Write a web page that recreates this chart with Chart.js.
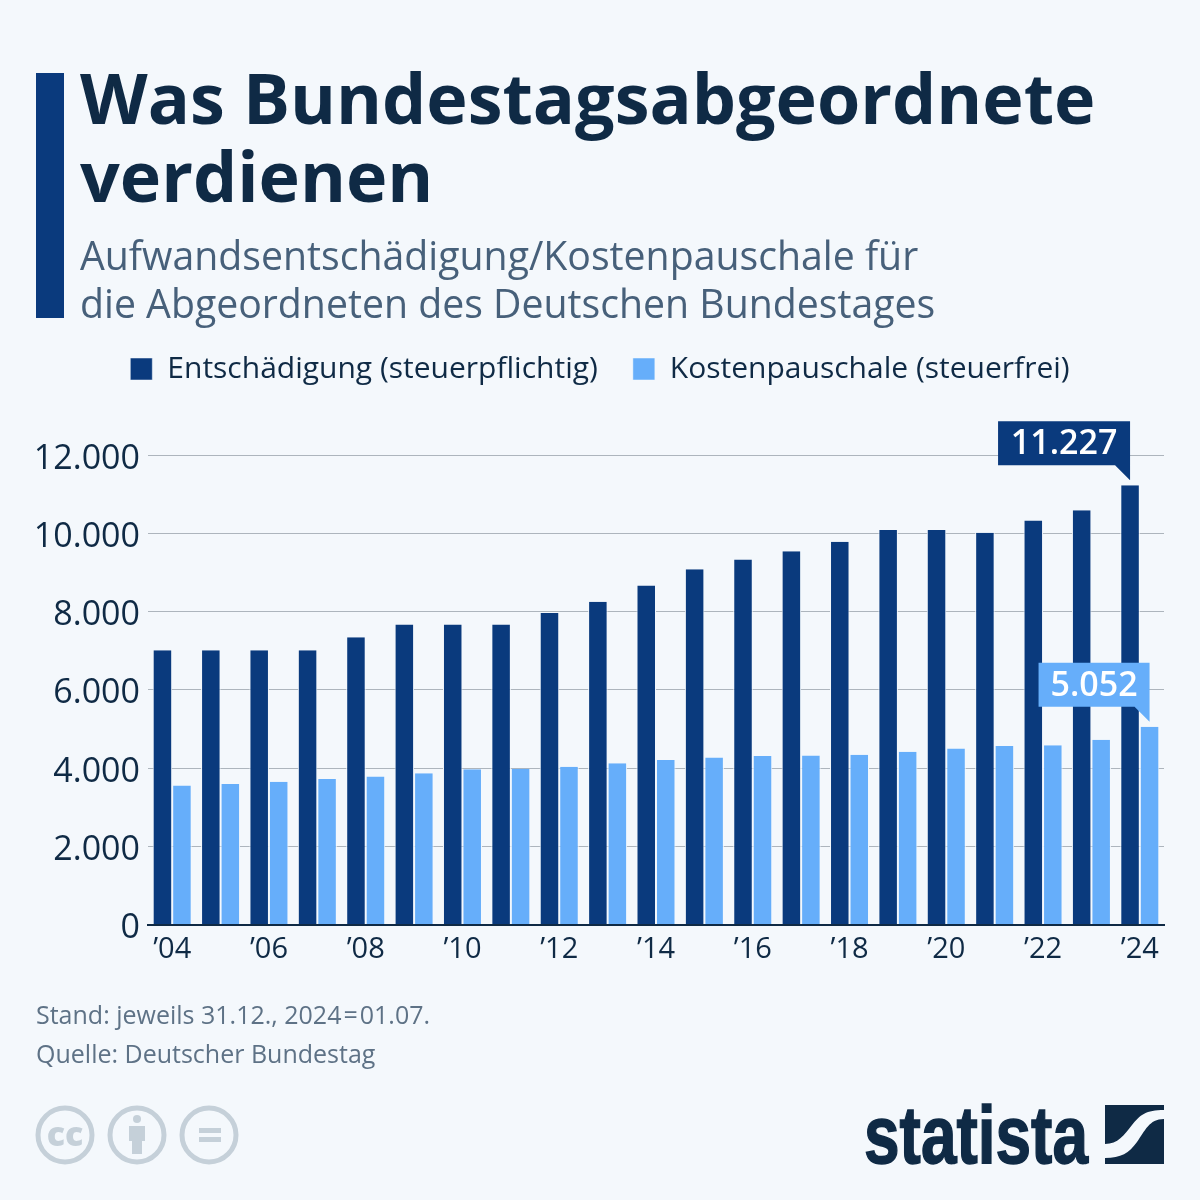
<!DOCTYPE html>
<html lang="de">
<head>
<meta charset="utf-8">
<title>Was Bundestagsabgeordnete verdienen</title>
<script src="https://cdn.jsdelivr.net/npm/chart.js@4"></script>
<style>
  html, body { margin: 0; padding: 0; background: #f4f8fc; }
  #page { position: relative; width: 1200px; height: 1200px; overflow: hidden; font-family: "Open Sans", sans-serif; }
  #page > * { position: absolute; }
  #chart { left: 0; top: 0; width: 1200px; height: 1200px; }
  #accent { left: 36px; top: 73px; width: 28px; height: 245px; background: #0a3a7d; }
  #title { left: 80px; top: 58px; font-size: 70px; line-height: 78px; font-weight: 700; color: #0f2a45; white-space: pre; }
  #subtitle { left: 80px; top: 231px; font-size: 39.23px; line-height: 48px; color: #47607a; white-space: pre; }
  #note { left: 36px; top: 994.5px; font-size: 25px; line-height: 39px; color: #5e7286; white-space: pre; }
  #note span { margin: 0 2px; }
</style>
</head>
<body>
<div id="page">
  <canvas id="chart" width="1200" height="1200"></canvas>
  <div id="accent"></div>
  <div id="title">Was Bundestagsabgeordnete
verdienen</div>
  <div id="subtitle">Aufwandsentschädigung/Kostenpauschale für
die Abgeordneten des Deutschen Bundestages</div>
  <div id="note">Stand: jeweils 31.12., 2024<span>=</span>01.07.
Quelle: Deutscher Bundestag</div>

  <!-- licence icons -->
  <svg style="left:0;top:1090px" width="260" height="90" viewBox="0 0 260 90">
    <g fill="none" stroke="#c5d0d9" stroke-width="5">
      <circle cx="65" cy="45" r="27"/><circle cx="137" cy="45" r="27"/><circle cx="209" cy="45" r="27"/>
    </g>
    <text x="65" y="56" text-anchor="middle" font-family="Open Sans" font-weight="800" font-size="34" fill="#c5d0d9">cc</text>
    <g fill="#c5d0d9">
      <circle cx="137" cy="29" r="4"/>
      <path d="M129 36h16v15h-3v13h-10V51h-3z"/>
      <rect x="199" y="38" width="22" height="5"/><rect x="199" y="47" width="22" height="5"/>
    </g>
  </svg>

  <!-- logo -->
  <svg style="left:860px;top:1095px" width="320" height="80" viewBox="0 0 320 80">
    <text x="4" y="68" textLength="224" lengthAdjust="spacingAndGlyphs" font-family="Liberation Sans" font-weight="700" font-size="82" fill="#0f2a45" stroke="#0f2a45" stroke-width="1.5">statista</text>
    <path d="M245 10h59v5c-18 0-24 5-32 15s-14 19-27 19z" fill="#0f2a45"/>
    <path d="M304 24v45h-59v-6c16 0 24-5 32-16s12-23 27-23z" fill="#0f2a45"/>
  </svg>
</div>

<script>
const years = ["’04","’05","’06","’07","’08","’09","’10","’11","’12","’13","’14","’15","’16","’17","’18","’19","’20","’21","’22","’23","’24"];
const entschaedigung = [7009,7009,7009,7009,7339,7668,7668,7668,7960,8252,8667,9082,9327,9542,9780,10083,10083,10012,10323,10591,11227];
const kostenpauschale = [3551,3589,3647,3720,3782,3868,3969,3984,4029,4123,4204,4267,4305,4318,4339,4418,4497,4560,4583,4725,5052];

const colors = {
  dark: "#0a3a7d",
  light: "#66aefa",
  ink: "#0f2a45",
  grid: "#adb5bd",
  bg: "#f4f8fc"
};

/* ===============================
   CALLOUTS ON THE LAST BARS
================================ */

function drawCallout(ctx, bar, text, fill, boxW, tipGap) {
  const boxH = 44;
  const tail = 15;
  const right = bar.x;
  const bottom = bar.y - tipGap - tail;
  const left = right - boxW;
  const top = bottom - boxH;

  ctx.fillStyle = fill;
  ctx.beginPath();
  ctx.moveTo(left, top);
  ctx.lineTo(right, top);
  ctx.lineTo(right, bottom + tail);
  ctx.lineTo(right - tail, bottom);
  ctx.lineTo(left, bottom);
  ctx.closePath();
  ctx.fill();

  ctx.fillStyle = "#fff";
  ctx.font = '600 34px "Open Sans"';
  ctx.textAlign = "center";
  ctx.textBaseline = "middle";
  ctx.fillText(text, left + boxW / 2, top + boxH / 2 + 1);
}

const calloutPlugin = {
  id: "callouts",
  afterDatasetsDraw(chart) {
    const last = years.length - 1;
    const { ctx } = chart;
    ctx.save();
    [0, 1].forEach(i => {
      const bar = chart.getDatasetMeta(i).data[last];
      const value = chart.data.datasets[i].data[last].toLocaleString("de-DE");
      drawCallout(ctx, bar, value, i === 0 ? colors.dark : colors.light, i === 0 ? 132 : 111, 5);
    });
    ctx.restore();
  }
};

// keep free space under the legend and center it on the page, not the plot
const legendPlacePlugin = {
  id: "legendPlace",
  beforeLayout(chart) {
    const legend = chart.legend;
    if (legend._gapDone) return;
    const fit = legend.fit;
    legend.fit = function () {
      fit.call(this);
      this.height += 61;
    };
    legend._gapDone = true;
  },
  afterLayout(chart) {
    chart.legend.left += 18;
    chart.legend.right += 18;
  }
};

/* ===============================
   CHART
================================ */

new Chart(document.getElementById("chart"), {
  type: "bar",
  plugins: [calloutPlugin, legendPlacePlugin],
  data: {
    labels: years,
    datasets: [
      { label: "Entschädigung (steuerpflichtig)", data: entschaedigung, backgroundColor: colors.dark },
      { label: "Kostenpauschale (steuerfrei)", data: kostenpauschale, backgroundColor: colors.light }
    ]
  },
  options: {
    responsive: false,
    animation: false,
    devicePixelRatio: 1,
    categoryPercentage: 0.806,
    barPercentage: 1,
    borderColor: colors.bg,
    borderWidth: { top: 0, left: 1, right: 1, bottom: 0 },
    layout: { padding: { top: 319, left: 0, right: 36, bottom: 225.5 } },
    plugins: {
      tooltip: { enabled: false },
      legend: {
        position: "top",
        onClick: null,
        labels: {
          boxWidth: 22,
          boxHeight: 22,
          padding: 35,
          color: colors.ink,
          font: { family: "Open Sans", size: 30 }
        }
      }
    },
    scales: {
      x: {
        afterFit(scale) { scale.height = 50; },
        grid: { display: false, drawTicks: false },
        border: { color: colors.ink, width: 2 },
        ticks: {
          autoSkip: false,
          maxRotation: 0,
          padding: 8,
          color: colors.ink,
          font: { family: "Open Sans", size: 29 },
          callback(value, index) { return index % 2 === 0 ? years[index] : ""; }
        }
      },
      y: {
        min: 0,
        max: 12000,
        afterFit(scale) { scale.width = 148; },
        grid: {
          drawTicks: false,
          color: colors.grid,
          lineWidth: 1
        },
        border: { display: false },
        ticks: {
          stepSize: 2000,
          padding: 8,
          color: colors.ink,
          font: { family: "Open Sans", size: 34, lineHeight: "8px" },
          // empty first line pushes the label slightly below its grid line
          callback(value) { return ["", value.toLocaleString("de-DE")]; }
        }
      }
    }
  }
});
</script>
</body>
</html>
